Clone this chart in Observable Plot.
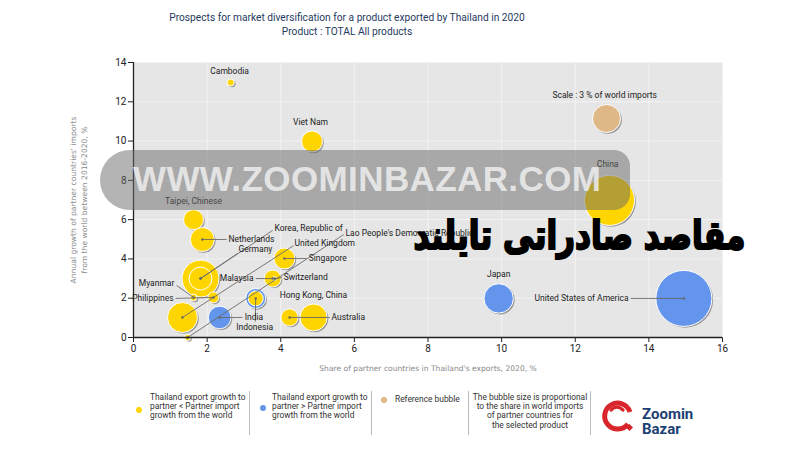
<!DOCTYPE html>
<html><head><meta charset="utf-8">
<script src="https://cdn.jsdelivr.net/npm/d3@7"></script>
<script src="https://cdn.jsdelivr.net/npm/@observablehq/plot@0.6"></script>
<style>
body{margin:0;background:#fff;}
#wrap{position:relative;width:800px;height:450px;overflow:hidden;background:#fff;font-family:Roboto,"Liberation Sans",sans-serif;}
#chart{position:absolute;left:0;top:0;}
.title{position:absolute;left:0;width:694px;text-align:center;color:#1f3a60;font-size:10.2px;}
.leg{position:absolute;font-size:8.4px;line-height:9.2px;color:#333;}
.sep{position:absolute;top:391px;width:1px;height:44px;background:#bbb;}
.wm{position:absolute;left:100px;top:150px;width:530px;height:60px;background:rgba(105,105,105,0.5);border-radius:30px 16px 16px 30px;}
.wmt{position:absolute;left:133px;top:159px;font:bold 35px "Liberation Sans",Arial,sans-serif;color:rgba(236,236,236,0.9);letter-spacing:0.4px;white-space:nowrap;}
.fa{position:absolute;right:55px;top:212px;font:bold 40px "DejaVu Sans",sans-serif;color:#000;direction:rtl;white-space:nowrap;transform:scaleX(0.78);transform-origin:right center;-webkit-text-stroke:2.2px #000;}
</style></head>
<body><div id="wrap"></div>
<script>
// ---- data ----
const countries = ["United States of America","China","Japan","Viet Nam","Cambodia","Taipei, Chinese","Netherlands","Germany","Korea, Republic of","Singapore","Malaysia","Switzerland","Hong Kong, China","Indonesia","India","Myanmar","Philippines","United Kingdom","Lao People's Democratic Republic","Australia","(unlabelled)"];
const shareInExports = [14.95,12.93,9.92,4.85,2.64,1.63,1.87,1.82,1.82,4.10,3.78,3.83,3.32,3.32,2.34,1.63,2.17,1.33,1.47,4.24,4.89];
const importGrowth   = [1.99,6.98,1.99,9.98,12.98,6.0,4.99,3.0,3.0,4.02,3.0,3.0,1.99,1.99,1.02,2.04,2.04,1.02,0.0,1.02,1.02];
const worldImportShare = [12.0,9.6,3.3,1.69,0.19,1.53,2.2,5.2,2.0,1.69,1.1,0.06,1.53,0.86,1.96,0.19,0.46,3.44,0.14,1.13,2.8];
const growthGroup = ["higher","lower","higher","lower","lower","lower","lower","lower","lower","lower","lower","lower","higher","lower","higher","lower","lower","lower","lower","lower","lower"];
const reference = {name:"Scale : 3 % of world imports", x:12.85, y:11.15, share:3};
const xTicks = [0,2,4,6,8,10,12,14,16];
const yTicks = [0,2,4,6,8,10,12,14];
const groupNames = ["lower","higher","reference"];
const groupColors = ["#FFD500","#6495ED","#DEB887"];

// ---- label layout (text position / leader end, in axis units) ----
const labelLayout = [
  {name:"Cambodia", tx:2.61, ty:13.54, anchor:"middle"},
  {name:"Viet Nam", tx:4.81, ty:10.95, anchor:"middle"},
  {name:"China", tx:12.88, ty:8.81, anchor:"middle"},
  {name:"Taipei, Chinese", tx:1.63, ty:6.92, anchor:"middle"},
  {name:"Japan", tx:9.92, ty:3.21, anchor:"middle"},
  {name:"Hong Kong, China", tx:3.97, ty:2.14, anchor:"start"},
  {name:"Netherlands", tx:2.58, ty:4.99, anchor:"start", ex:2.53, ey:4.99},
  {name:"Korea, Republic of", tx:3.83, ty:5.55, anchor:"start", ex:3.78, ey:5.45},
  {name:"Lao People's Democratic Republic", tx:5.76, ty:5.30, anchor:"start", ex:5.71, ey:5.24},
  {name:"United Kingdom", tx:4.375, ty:4.79, anchor:"start", ex:4.35, ey:4.68},
  {name:"Germany", tx:2.85, ty:4.48, anchor:"start", ex:2.83, ey:4.28},
  {name:"Singapore", tx:4.76, ty:4.02, anchor:"start", ex:4.70, ey:4.02},
  {name:"Malaysia", tx:3.26, ty:3.0, anchor:"end", ex:3.32, ey:3.0},
  {name:"Switzerland", tx:4.08, ty:3.05, anchor:"start", ex:4.02, ey:3.05},
  {name:"Myanmar", tx:1.11, ty:2.75, anchor:"end", ex:1.17, ey:2.65},
  {name:"Philippines", tx:1.09, ty:1.99, anchor:"end", ex:1.14, ey:1.99},
  {name:"India", tx:3.02, ty:1.02, anchor:"start", ex:2.96, ey:1.02},
  {name:"Indonesia", tx:3.29, ty:0.51, anchor:"middle", ex:3.31, ey:0.81},
  {name:"Australia", tx:5.38, ty:1.02, anchor:"start", ex:5.33, ey:1.02},
  {name:"United States of America", tx:13.45, ty:1.99, anchor:"end", ex:13.5, ey:1.99}
];

const rows = countries.map((c,i)=>({name:c, x:shareInExports[i], y:importGrowth[i], share:worldImportShare[i], group:growthGroup[i]}));
const bubbles = rows.concat([{name:reference.name, x:reference.x, y:reference.y, share:reference.share, group:"reference"}]);
const byName = new Map(rows.map(d=>[d.name,d]));
const labels = labelLayout.map(l=>({...l, px:byName.get(l.name).x, py:byName.get(l.name).y}));
const leaders = labels.filter(l=>l.ex!==undefined);
const refLabel = [{text:reference.name, tx:12.8, ty:12.32}];
const labelMarks = ["start","middle","end"].map(a =>
  Plot.text(labels.filter(l=>l.anchor===a), {x:"tx", y:"ty", text:"name", textAnchor:a, fontSize:8.5, fill:"#222"}));

const chart = Plot.plot({
  width:800, height:392,
  marginLeft:133, marginRight:78, marginTop:62, marginBottom:55,
  style:{fontFamily:"Roboto, 'Liberation Sans', sans-serif", fontSize:"10px", color:"#222", background:"transparent", overflow:"visible"},
  x:{domain:[0,16], ticks:xTicks, tickSize:5, tickPadding:2, label:null},
  y:{domain:[0,14], ticks:yTicks, tickSize:5, tickPadding:2, label:null},
  r:{type:"sqrt", domain:[0,3], range:[0,14]},
  color:{domain:groupNames, range:groupColors},
  marks:[
    Plot.frame({fill:"#e6e6e6"}),
    Plot.ruleX(xTicks.slice(1,-1), {stroke:"#f3f3f3", strokeWidth:1}),
    Plot.ruleY(yTicks.slice(1,-1), {stroke:"#f3f3f3", strokeWidth:1}),
    Plot.dot(bubbles, {x:"x", y:"y", r:"share", fill:"#555", fillOpacity:0.55, dx:1.3, dy:1.3}),
    Plot.dot(bubbles, {x:"x", y:"y", r:"share", fill:"group", stroke:"#fff", strokeWidth:1}),
    Plot.link(leaders, {x1:"px", y1:"py", x2:"ex", y2:"ey", stroke:"#6a6a6a", strokeWidth:0.9}),
    Plot.dot(leaders, {x:"px", y:"py", r:1.2, fill:"#666"}),
    ...labelMarks,
    Plot.text(refLabel, {x:"tx", y:"ty", text:"text", fontSize:8.5, fill:"#222"}),
    Plot.ruleX([0], {stroke:"#222", strokeWidth:1.3}),
    Plot.ruleY([0], {stroke:"#222", strokeWidth:1.3}),
    Plot.text(["Share of partner countries in Thailand's exports, 2020, %"], {frameAnchor:"bottom", dy:33, fontFamily:"DejaVu Sans", fontSize:7.6, fill:"#8a8a8a", text:d=>d}),
    Plot.text(["Annual growth of partner countries' imports\nfrom the world between 2016-2020, %"], {frameAnchor:"left", textAnchor:"middle", lineAnchor:"middle", rotate:-90, dx:-56, fontFamily:"DejaVu Sans", fontSize:7.6, lineHeight:1.45, fill:"#8a8a8a", text:d=>d})
  ]
});
chart.id = "chart";
const wrap = document.getElementById("wrap");
wrap.appendChild(chart);

wrap.insertAdjacentHTML("beforeend", `
<div class="title" style="top:12px">Prospects for market diversification for a product exported by Thailand in 2020</div>
<div class="title" style="top:26px">Product : TOTAL All products</div>
<svg style="position:absolute;left:0;top:0" width="800" height="450">
  <circle cx="139" cy="410" r="3" fill="${groupColors[0]}"/>
  <circle cx="263" cy="408" r="3" fill="${groupColors[1]}"/>
  <circle cx="384" cy="400" r="3" fill="${groupColors[2]}"/>
  <g>
    <path d="M 628 424 A 13 13 0 1 1 630 412" fill="none" stroke="#d8262c" stroke-width="5"/>
    <path d="M 611 410 Q 617 404 623 410" fill="none" stroke="#d8262c" stroke-width="3.2" stroke-linecap="round"/>
    <rect x="627" y="425" width="5" height="5" fill="#d8262c" transform="rotate(45 629.5 427.5)"/>
    <text x="642" y="419" font-family="Roboto, 'Liberation Sans', sans-serif" font-weight="bold" font-size="15" fill="#1d3f73">Zoomin</text>
    <text x="642" y="434" font-family="Roboto, 'Liberation Sans', sans-serif" font-weight="bold" font-size="15" fill="#1d3f73">Bazar</text>
  </g>
</svg>
<div class="leg" style="left:150px;top:393px">Thailand export growth to<br>partner &lt; Partner import<br>growth from the world</div>
<div class="sep" style="left:249px"></div>
<div class="leg" style="left:272px;top:393px">Thailand export growth to<br>partner &gt; Partner import<br>growth from the world</div>
<div class="sep" style="left:371px"></div>
<div class="leg" style="left:395px;top:395px">Reference bubble</div>
<div class="sep" style="left:468px"></div>
<div class="leg" style="left:470px;top:393px;width:120px;text-align:center">The bubble size is proportional<br>to the share in world imports<br>of partner countries for<br>the selected product</div>
<div class="sep" style="left:590px"></div>
<div class="wm"></div>
<div class="wmt">WWW.ZOOMINBAZAR.COM</div>
<div class="fa">مقاصد صادراتی تایلند</div>
`);
</script>
</body></html>
